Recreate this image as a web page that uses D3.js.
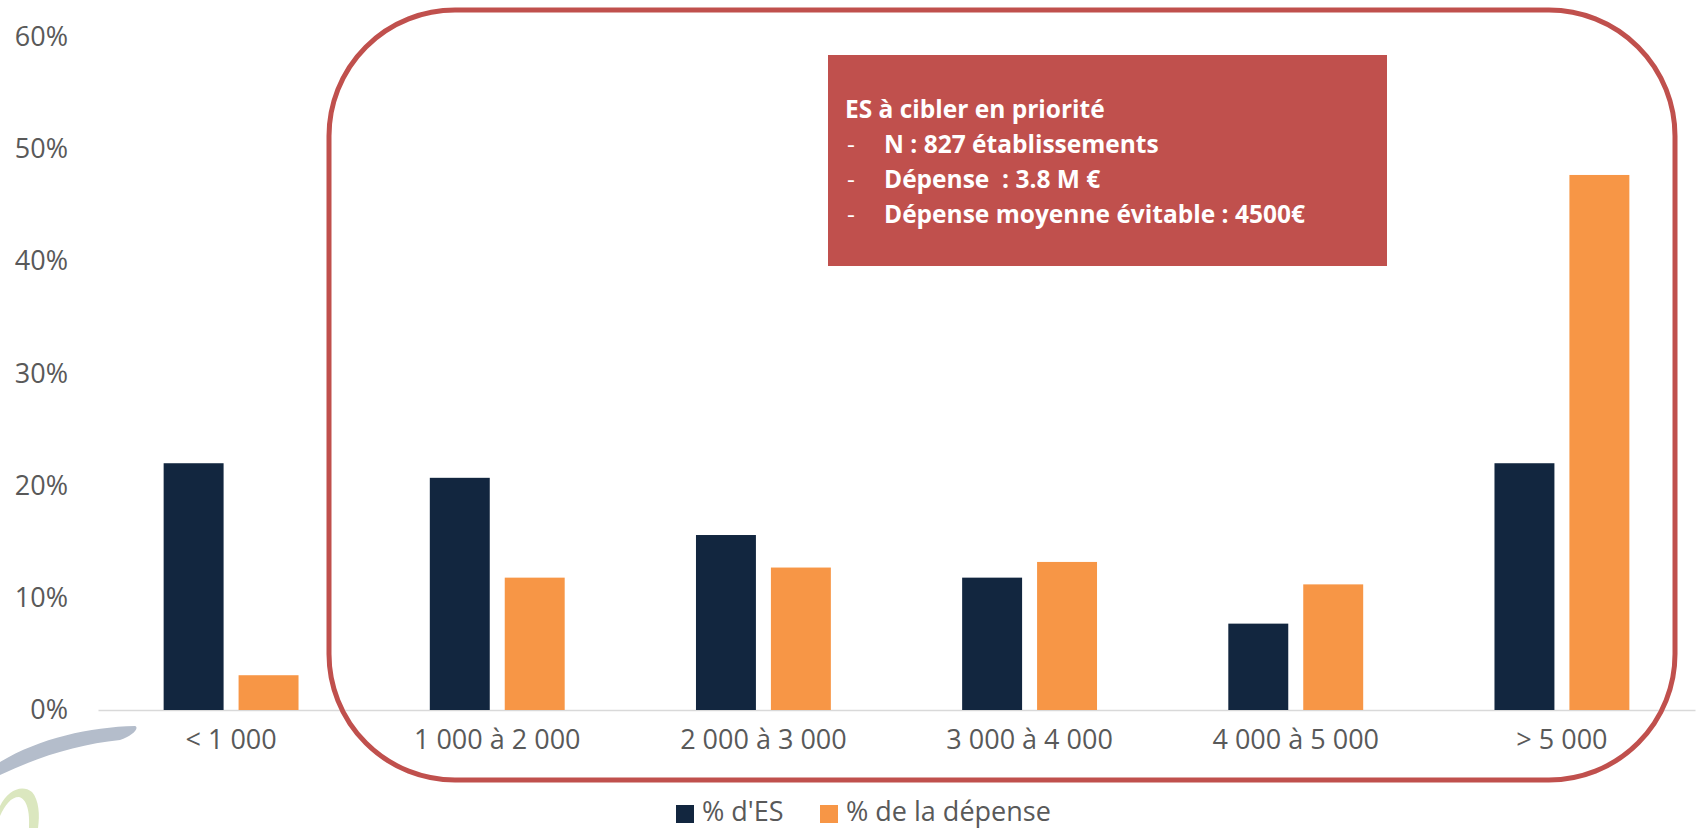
<!DOCTYPE html>
<html>
<head>
<meta charset="utf-8">
<script src="https://cdn.jsdelivr.net/npm/d3@7"></script>
<style>
  body { margin: 0; background: #fff; }
  text { font-family: "Open Sans", sans-serif; }
</style>
</head>
<body>
<div id="chart"></div>
<script>
// data
var categories = ["< 1 000", "1 000 à 2 000", "2 000 à 3 000", "3 000 à 4 000", "4 000 à 5 000", "> 5 000"];
var seriesNames = ["% d'ES", "% de la dépense"];
var pctES = [0.220, 0.207, 0.156, 0.118, 0.077, 0.220];
var pctDepense = [0.031, 0.118, 0.127, 0.132, 0.112, 0.477];
var yTicks = [0, 0.1, 0.2, 0.3, 0.4, 0.5, 0.6];
var boxTitle = "ES à cibler en priorité";
var boxItems = ["N : 827 établissements", "Dépense  : 3.8 M €", "Dépense moyenne évitable : 4500€"];

var colors = ["#12263f", "#f79646"];

var svgWidth = 1696;
var svgHeight = 828;

var margin = { top: 37, right: 1, bottom: 118, left: 98 };
var width = svgWidth - margin.left - margin.right;
var height = svgHeight - margin.top - margin.bottom;

var svg = d3
  .select("#chart")
  .append("svg")
  .attr("width", svgWidth)
  .attr("height", svgHeight);

svg.append("rect").attr("width", svgWidth).attr("height", svgHeight).attr("fill", "#fff");

// bits of a logo peeking in at the bottom left
svg
  .append("path")
  .attr("d", "M0,762 C40,738 90,727 135,726 C140,728 132,736 120,740 C80,744 40,756 0,775 Z")
  .attr("fill", "#b4bdcb");
svg
  .append("path")
  .attr("d", "M0,806 C8,790 22,784 32,792 C39,800 40,815 38,828 L29,828 C30,812 27,799 19,797 C11,797 5,805 0,816 Z")
  .attr("fill", "#dbe7bf");

var chartGroup = svg
  .append("g")
  .attr("transform", `translate(${margin.left}, ${margin.top})`);

// scales
var x0 = d3.scaleBand().domain(categories).range([0, width]);
var bw = x0.bandwidth();
var barW = bw / 4.44;
var x1 = d3
  .scaleBand()
  .domain(seriesNames)
  .range([(bw - 2.25 * barW) / 2, (bw + 2.25 * barW) / 2])
  .paddingInner(0.2);

var yScale = d3.scaleLinear().domain([0, 0.6]).range([height, 0]);

// y axis labels only
var leftAxis = d3
  .axisLeft(yScale)
  .tickValues(yTicks)
  .tickFormat(d3.format(".0%"))
  .tickSize(0)
  .tickPadding(30);

var yAxis = chartGroup.append("g").call(leftAxis);
yAxis.select(".domain").remove();
yAxis
  .selectAll("text")
  .attr("fill", "#595959")
  .style("font-size", "27px")
  .style("font-family", "Open Sans");

// x axis
var bottomAxis = d3.axisBottom(x0).tickSize(0).tickPadding(20);
var xAxis = chartGroup
  .append("g")
  .attr("transform", `translate(0, ${height})`)
  .call(bottomAxis);
xAxis.select(".domain").attr("stroke", "#d9d9d9").attr("stroke-width", 1.5);
xAxis
  .selectAll("text")
  .attr("fill", "#595959")
  .style("font-size", "27px")
  .style("font-family", "Open Sans");

// bars
var rows = categories.map(function (c, i) {
  return { cat: c, values: [pctES[i], pctDepense[i]] };
});

var groups = chartGroup
  .selectAll(".grp")
  .data(rows)
  .enter()
  .append("g")
  .attr("transform", (d) => `translate(${x0(d.cat)}, 0)`);

groups
  .selectAll("rect")
  .data((d) => d.values.map((v, j) => ({ name: seriesNames[j], value: v, j: j })))
  .enter()
  .append("rect")
  .attr("x", (d) => x1(d.name))
  .attr("width", x1.bandwidth())
  .attr("y", (d) => yScale(d.value))
  .attr("height", (d) => height - yScale(d.value))
  .attr("fill", (d) => colors[d.j]);

// red rounded frame around the target groups
svg
  .append("rect")
  .attr("x", 329)
  .attr("y", 10)
  .attr("width", 1346)
  .attr("height", 770)
  .attr("rx", 126)
  .attr("ry", 126)
  .attr("fill", "none")
  .attr("stroke", "#c0504d")
  .attr("stroke-width", 5);

// annotation box
svg
  .append("rect")
  .attr("x", 828)
  .attr("y", 55)
  .attr("width", 559)
  .attr("height", 211)
  .attr("fill", "#c0504d");

var boxText = svg
  .append("g")
  .style("font-family", "Lato")
  .style("font-weight", 700)
  .style("font-size", "24.5px")
  .attr("fill", "#fff");

boxText.append("text").attr("x", 845).attr("y", 118).text(boxTitle);

boxItems.forEach(function (t, i) {
  var yy = 153 + i * 35;
  boxText.append("text").attr("x", 847).attr("y", yy).style("font-weight", 400).text("-");
  // keep the double space of the original
  boxText
    .append("text")
    .attr("x", 884)
    .attr("y", yy)
    .text(t.replace(/  /g, " \u00a0"));
});

// legend
var legend = svg.append("g");
var legendX = [676, 820];
seriesNames.forEach(function (n, i) {
  legend
    .append("rect")
    .attr("x", legendX[i])
    .attr("y", 805)
    .attr("width", 18)
    .attr("height", 18)
    .attr("fill", colors[i]);
  legend
    .append("text")
    .attr("x", legendX[i] + 26)
    .attr("y", 821)
    .attr("fill", "#595959")
    .style("font-size", "27px")
    .text(n);
});
</script>
</body>
</html>
